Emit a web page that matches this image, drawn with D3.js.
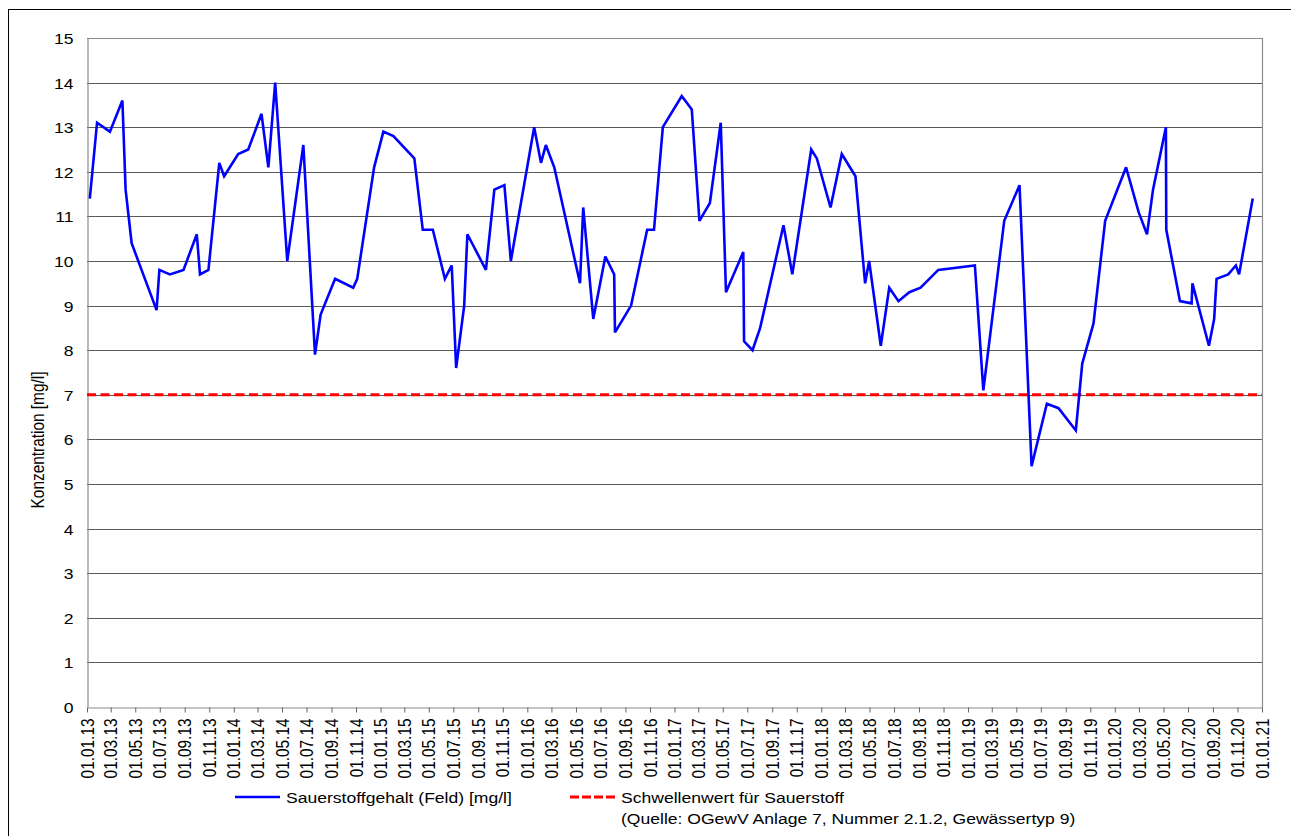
<!DOCTYPE html>
<html>
<head>
<meta charset="utf-8">
<script src="https://cdn.jsdelivr.net/npm/d3@7"></script>
<style>
  html, body { margin: 0; padding: 0; background: #fff; }
  svg { display: block; }
  text { font-family: "Liberation Sans", Arial, sans-serif; fill: #000; }
</style>
</head>
<body>
<svg id="chart" width="1291" height="836"></svg>
<script>
// ---- data ----
const sampleDates = [
  "2013-01-08","2013-01-26","2013-02-27","2013-03-30","2013-04-07","2013-04-22","2013-05-25","2013-06-23","2013-06-30","2013-07-26",
  "2013-08-29","2013-10-01","2013-10-09","2013-10-30","2013-11-26","2013-12-08","2014-01-12","2014-02-06","2014-03-11","2014-03-28",
  "2014-04-14","2014-05-14","2014-06-23","2014-07-22","2014-08-05","2014-09-10","2014-10-25","2014-11-04","2014-12-16","2015-01-08",
  "2015-02-02","2015-03-26","2015-04-16","2015-05-11","2015-06-10","2015-06-27","2015-07-08","2015-07-28","2015-08-05","2015-09-20",
  "2015-10-11","2015-11-05","2015-11-21","2016-01-18","2016-02-04","2016-02-16","2016-03-08","2016-05-11","2016-05-19","2016-06-13",
  "2016-07-13","2016-08-04","2016-08-06","2016-09-15","2016-10-25","2016-11-11","2016-12-03","2017-01-19","2017-02-13","2017-03-04",
  "2017-03-30","2017-04-26","2017-05-09","2017-06-21","2017-06-23","2017-07-14","2017-08-02","2017-09-29","2017-10-21","2017-12-07",
  "2017-12-21","2018-01-24","2018-02-21","2018-03-27","2018-04-20","2018-04-30","2018-05-29","2018-06-19","2018-07-12","2018-08-08",
  "2018-09-05","2018-10-19","2019-01-18","2019-02-08","2019-04-01","2019-05-09","2019-06-08","2019-07-16","2019-08-14","2019-09-26",
  "2019-10-12","2019-11-09","2019-12-08","2020-01-29","2020-02-29","2020-03-21","2020-04-05","2020-05-07","2020-05-08","2020-06-11",
  "2020-07-10","2020-07-12","2020-08-22","2020-09-04","2020-09-10","2020-10-09","2020-10-28","2020-11-05","2020-12-09"
];
const oxygenValues = [
  11.4,13.1,12.9,13.6,11.6,10.4,9.6,8.9,9.8,9.7,
  9.8,10.6,9.7,9.8,12.2,11.9,12.4,12.5,13.3,12.1,
  14.0,10.0,12.6,7.9,8.8,9.6,9.4,9.6,12.1,12.9,
  12.8,12.3,10.7,10.7,9.6,9.9,7.6,9.0,10.6,9.8,
  11.6,11.7,10.0,13.0,12.2,12.6,12.1,9.5,11.2,8.7,
  10.1,9.7,8.4,9.0,10.7,10.7,13.0,13.7,13.4,10.9,
  11.3,13.1,9.3,10.2,8.2,8.0,8.5,10.8,9.7,12.5,
  12.3,11.2,12.4,11.9,9.5,10.0,8.1,9.4,9.1,9.3,
  9.4,9.8,9.9,7.1,10.9,11.7,5.4,6.8,6.7,6.2,
  7.7,8.6,10.9,12.1,11.1,10.6,11.6,13.0,10.7,9.1,
  9.05,9.5,8.1,8.7,9.6,9.7,9.9,9.7,11.4
];
const thresholdValue = 7;
const yTicks = [0,1,2,3,4,5,6,7,8,9,10,11,12,13,14,15];
const xDomain = ["2013-01-01", "2021-01-01"];
const yAxisTitle = "Konzentration [mg/l]";
const seriesNames = ["Sauerstoffgehalt (Feld) [mg/l]", "Schwellenwert für Sauerstoff"];
const thresholdNote = "(Quelle: OGewV Anlage 7, Nummer 2.1.2, Gewässertyp 9)";

// ---- drawing ----
const parse = d3.timeParse("%Y-%m-%d");
const fmt = d3.timeFormat("%d.%m.%y");
const SX = 1.14;   // horizontal text stretch as in the reference
const FS = 15.4;

const svg = d3.select("#chart");
svg.append("rect").attr("width", 1291).attr("height", 836).attr("fill", "#fff");
svg.append("rect").attr("x", 8.5).attr("y", 9.5).attr("width", 1400).attr("height", 1000)
  .attr("fill", "none").attr("stroke", "#000").attr("stroke-width", 1);

const L = 87, R = 1262, T = 38, B = 707;
const x = d3.scaleTime().domain(xDomain.map(parse)).range([L, R]);
const y = d3.scaleLinear().domain([0, 15]).range([B, T]);

// gridlines
svg.append("g").selectAll("line").data(yTicks.filter(v => v > 0)).join("line")
  .attr("x1", L).attr("x2", R)
  .attr("y1", d => Math.round(y(d)) + 0.5).attr("y2", d => Math.round(y(d)) + 0.5)
  .attr("stroke", "#5a5a5a").attr("stroke-width", 1);

// plot frame (top/right)
svg.append("path")
  .attr("d", `M${L + 0.5},${T + 0.5}H${R + 0.5}V${B + 0.5}`)
  .attr("fill", "none").attr("stroke", "#8c8c8c").attr("stroke-width", 1.2);

// y axis
const yAxis = svg.append("g").attr("transform", `translate(${L + 0.5},0)`)
  .call(d3.axisLeft(y).tickValues(yTicks).tickSize(0).tickFormat(d3.format("d")));
yAxis.select(".domain").attr("stroke", "#8c8c8c").attr("stroke-width", 1.2);
yAxis.selectAll(".tick text").remove();
yAxis.selectAll(".tick").append("text")
  .attr("transform", `translate(-14,0) scale(${SX},1)`)
  .attr("text-anchor", "end").attr("dy", "0.36em")
  .style("font-size", FS + "px").text(d => d);

// x axis
const xTicks = d3.timeMonth.every(2).range(parse(xDomain[0]), d3.timeDay.offset(parse(xDomain[1]), 1));
const xAxis = svg.append("g").attr("transform", `translate(0,${B + 0.5})`)
  .call(d3.axisBottom(x).tickValues(xTicks).tickSize(5).tickSizeOuter(0).tickFormat(fmt));
xAxis.select(".domain").attr("stroke", "#8c8c8c").attr("stroke-width", 1.2);
xAxis.selectAll(".tick line").attr("stroke", "#666");
xAxis.selectAll(".tick text").remove();
xAxis.selectAll(".tick").append("text")
  .attr("transform", `translate(0,11) scale(${SX},1) rotate(-90)`)
  .attr("text-anchor", "end").attr("dy", "0.35em")
  .style("font-size", FS + "px").text(d => fmt(d));

// y title
svg.append("text")
  .attr("transform", `translate(38,440) scale(${SX},1) rotate(-90)`)
  .attr("text-anchor", "middle").attr("dy", "0.35em")
  .style("font-size", FS + "px").text(yAxisTitle);

// threshold line
svg.append("line")
  .attr("x1", x(parse(xDomain[0]))).attr("x2", x(parse(xDomain[1])))
  .attr("y1", y(thresholdValue)).attr("y2", y(thresholdValue))
  .attr("stroke", "#ff0000").attr("stroke-width", 3).attr("stroke-dasharray", "9,4.5");

// data line
const pts = sampleDates.map((d, i) => [parse(d), oxygenValues[i]]);
svg.append("path").datum(pts)
  .attr("d", d3.line().x(d => x(d[0])).y(d => y(d[1])))
  .attr("fill", "none").attr("stroke", "#0000ff").attr("stroke-width", 2.6)
  .attr("stroke-linejoin", "miter").attr("stroke-miterlimit", 3);

// legend
const lg = svg.append("g");
lg.append("line").attr("x1", 235).attr("x2", 280).attr("y1", 797).attr("y2", 797)
  .attr("stroke", "#0000ff").attr("stroke-width", 2.6);
lg.append("text").attr("transform", `translate(286,797) scale(${SX},1)`).attr("dy", "0.36em")
  .style("font-size", FS + "px").text(seriesNames[0]);
lg.append("line").attr("x1", 570).attr("x2", 615).attr("y1", 797).attr("y2", 797)
  .attr("stroke", "#ff0000").attr("stroke-width", 3).attr("stroke-dasharray", "9,3");
lg.append("text").attr("transform", `translate(621,797) scale(${SX},1)`).attr("dy", "0.36em")
  .style("font-size", FS + "px").text(seriesNames[1]);
lg.append("text").attr("transform", `translate(621,818) scale(${SX},1)`).attr("dy", "0.36em")
  .style("font-size", FS + "px").text(thresholdNote);
</script>
</body>
</html>
